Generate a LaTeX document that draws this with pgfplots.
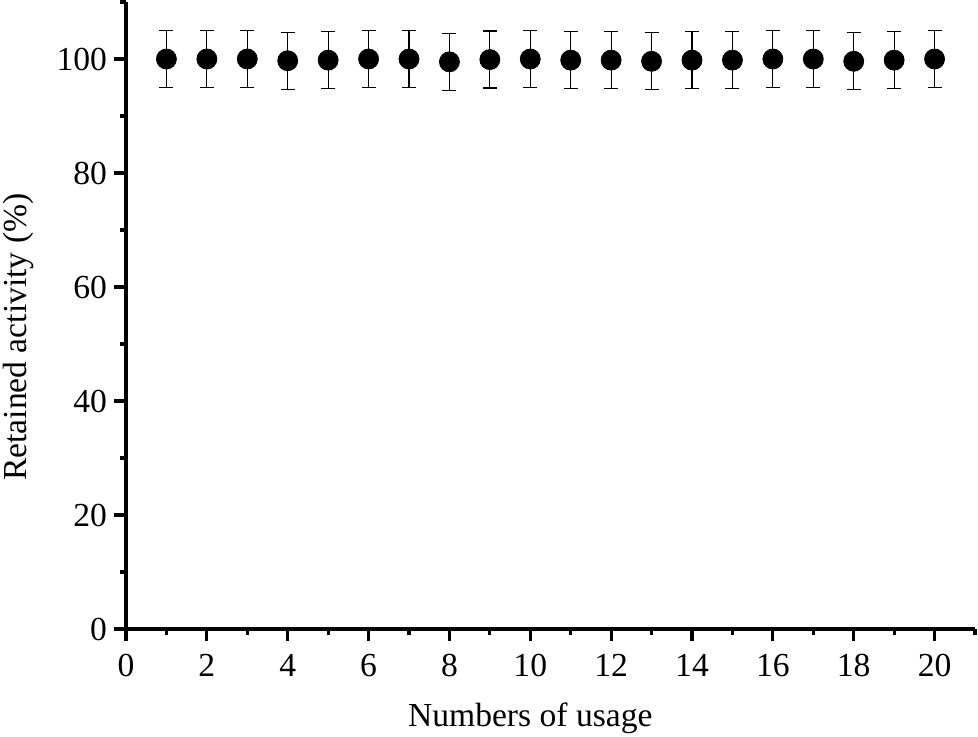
\documentclass[border=0pt]{standalone}
\usepackage{pgfplots}
\pgfplotsset{compat=1.18}
\usepackage{fontspec}
\setmainfont{Liberation Serif}

\begin{document}
\begin{tikzpicture}
    % page frame = reference frame (0.5pt per pixel), axis corner at origin
    \useasboundingbox (-63pt,-53.5pt) rectangle (426pt,314.5pt);
    \begin{axis}[
        at={(0,0)}, anchor=south west,
        scale only axis,
        width=424.5pt,
        height=313.5pt,
        xmin=0, xmax=21,
        ymin=0, ymax=110,
        xtick={0,2,...,20},
        ytick={0,20,...,100},
        minor xtick={1,3,...,21},
        minor ytick={10,30,...,110},
        axis x line*=bottom,
        axis y line*=left,
        axis line style={-, line width=2pt},
        tick align=outside,
        tick pos=left,
        major tick length=6pt,
        minor tick length=3pt,
        every tick/.style={black, line width=1.6pt},
        tick label style={font=\fontsize{16.8}{20}\selectfont},
        xticklabel style={yshift=-3pt},
        yticklabel style={xshift=0pt},
        label style={font=\fontsize{16.8}{20}\selectfont},
        /pgf/number format/assume math mode=true,
        xlabel={Numbers of usage},
        ylabel={Retained activity (\%)},
        xlabel style={at={(axis cs:10,0)}, anchor=base, yshift=-48.5pt},
        ylabel style={at={(axis cs:-2.45,51.2)}, anchor=base},
        clip=false,
    ]
        % retained activity after repeated use, +/- 5 %
        \addplot+[
            only marks,
            mark=*,
            mark size=5pt,
            black,
            mark options={fill=black, draw=black},
            error bars/.cd,
                y dir=both, y explicit,
                error bar style={line width=0.6pt, black},
                error mark options={rotate=90, mark size=3.5pt, line width=0.6pt, black},
        ] coordinates {
            (1,100.0)  +- (0,5)
            (2,100.0)  +- (0,5)
            (3,100.0)  +- (0,5)
            (4,99.7)   +- (0,5)
            (5,99.8)   +- (0,5)
            (6,100.0)  +- (0,5)
            (7,100.0)  +- (0,5)
            (8,99.5)   +- (0,5)
            (9,99.9)   +- (0,5)
            (10,100.0) +- (0,5)
            (11,99.8)  +- (0,5)
            (12,99.8)  +- (0,5)
            (13,99.6)  +- (0,5)
            (14,99.8)  +- (0,5)
            (15,99.8)  +- (0,5)
            (16,100.0) +- (0,5)
            (17,100.0) +- (0,5)
            (18,99.6)  +- (0,5)
            (19,99.8)  +- (0,5)
            (20,100.0) +- (0,5)
        };
    \end{axis}
\end{tikzpicture}
\end{document}
